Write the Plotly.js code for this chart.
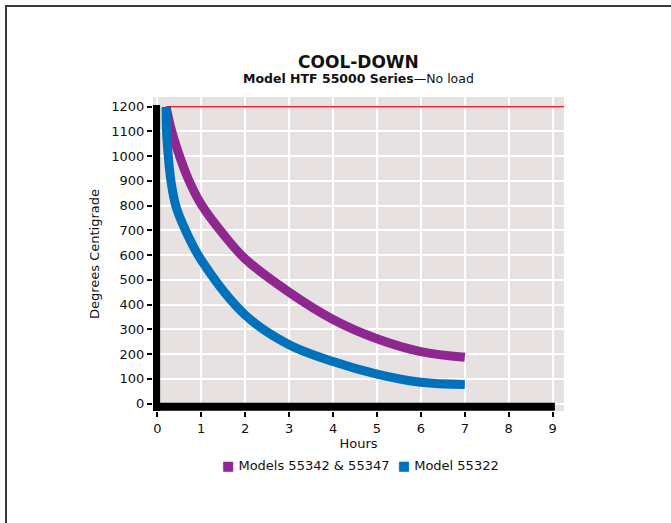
<!DOCTYPE html>
<html>
<head>
<meta charset="utf-8">
<script src="https://cdn.plot.ly/plotly-3.0.1.min.js"></script>
<style>
html,body{margin:0;padding:0;background:#fff;}
#wrap{position:relative;width:671px;height:523px;overflow:hidden;}
#chart{position:absolute;left:0;top:0;width:671px;height:523px;}
#frame{position:absolute;left:5px;top:5px;width:680px;height:540px;border-top:2px solid #3a3a3a;border-left:2px solid #3a3a3a;pointer-events:none;}
</style>
</head>
<body>
<div id="wrap">
<div id="chart"></div>
<div id="frame"></div>
</div>
<script>
// Data
const hoursA = [0.2, 0.3, 0.45, 0.7, 1.0, 1.5, 2, 3, 4, 5, 6, 7];
const models55342_55347 = [1200, 1120, 1030, 910, 805, 685, 585, 450, 340, 262, 210, 187];
const hoursB = [0.2, 0.21, 0.25, 0.31, 0.42, 0.63, 1.0, 2, 3, 4, 5, 6, 7];
const model55322 = [1200, 1100, 1000, 900, 800, 705, 580, 358, 238, 170, 119, 86, 77];
const maxTempX = [0.2, 9.26];
const maxTempY = [1200, 1200];
const seriesNames = ['Models 55342 &amp; 55347', 'Model 55322'];
const xTicks = [0,1,2,3,4,5,6,7,8,9];
const yTicks = [0,100,200,300,400,500,600,700,800,900,1000,1100,1200];

const purple = '#8E278F';
const blue = '#0071BB';
const font = 'DejaVu Sans, sans-serif';

const traces = [
  {x: maxTempX, y: maxTempY, mode: 'lines', line: {color: '#E8232B', width: 1.5}, showlegend: false, hoverinfo: 'skip'},
  {x: hoursA, y: models55342_55347, mode: 'lines', line: {color: purple, width: 9, shape: 'spline', smoothing: 1.0}, showlegend: false},
  {x: hoursB, y: model55322, mode: 'lines', line: {color: blue, width: 9, shape: 'spline', smoothing: 1.0}, showlegend: false}
];

const legendText = '<span style="color:' + purple + '">■</span> ' + seriesNames[0] +
  '&nbsp;&nbsp;<span style="color:' + blue + '">■</span> ' + seriesNames[1];

const layout = {
  width: 671, height: 523,
  margin: {l: 153, r: 107, t: 97, b: 112},
  paper_bgcolor: '#ffffff',
  plot_bgcolor: '#E7E1E1',
  font: {family: font, size: 13, color: '#111'},
  showlegend: false,
  xaxis: {
    range: [-0.098, 9.258], tickvals: xTicks, ticks: 'outside', ticklen: 5, tickwidth: 2, tickcolor: '#000',
    showgrid: true, gridcolor: '#ffffff', gridwidth: 2, zeroline: false, showline: false,
    title: {text: 'Hours', font: {size: 13}, standoff: 4}, fixedrange: true
  },
  yaxis: {
    range: [-30.3, 1239.4], tickvals: yTicks, ticks: 'outside', ticklen: 5, tickwidth: 2, tickcolor: '#000',
    showgrid: true, gridcolor: '#ffffff', gridwidth: 2, zeroline: false, showline: false,
    title: {text: 'Degrees Centigrade', font: {size: 13}, standoff: 8}, fixedrange: true
  },
  shapes: [
    {type: 'rect', xref: 'x', yref: 'y', x0: -0.105, x1: 0.064, y0: -30, y1: 1207, fillcolor: '#000', line: {width: 0}},
    {type: 'rect', xref: 'x', yref: 'y', x0: -0.105, x1: 9.05, y0: -29.5, y1: 3.2, fillcolor: '#000', line: {width: 0}}
  ],
  annotations: [
    {text: '<b>COOL-DOWN</b>', xref: 'paper', yref: 'paper', x: 0.5, y: 1.1115, xanchor: 'center', yanchor: 'middle', showarrow: false, font: {size: 17, color: '#111'}},
    {text: '<b>Model HTF 55000 Series</b>—No load', xref: 'paper', yref: 'paper', x: 0.5, y: 1.0605, xanchor: 'center', yanchor: 'middle', showarrow: false, font: {size: 12.5, color: '#111'}},
    {text: legendText, xref: 'paper', yref: 'paper', x: 0.506, y: -0.175, xanchor: 'center', yanchor: 'middle', showarrow: false, font: {size: 13, color: '#111'}}
  ]
};

Plotly.newPlot('chart', traces, layout, {displayModeBar: false, staticPlot: true});
</script>
</body>
</html>
